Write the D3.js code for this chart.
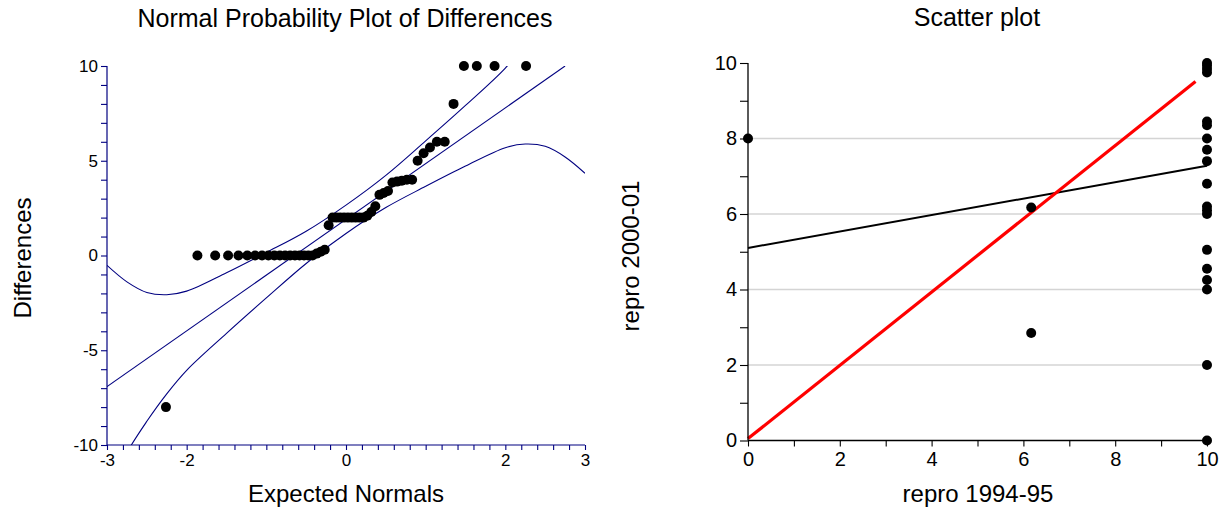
<!DOCTYPE html>
<html>
<head>
<meta charset="utf-8">
<script src="https://cdn.jsdelivr.net/npm/d3@7"></script>
<style>
  html, body { margin: 0; padding: 0; background: #fff; }
  svg { display: block; font-family: Arial, "Liberation Sans", sans-serif; }
</style>
</head>
<body>
<svg id="chart" width="1226" height="509"></svg>
<script>
// ---- Normal probability plot: expected normal scores and sorted differences ----
const expectedNormals = [
  -2.26, -1.865, -1.642, -1.48, -1.35, -1.239, -1.141, -1.054, -0.974, -0.899,
  -0.83, -0.764, -0.701, -0.641, -0.583, -0.527, -0.473, -0.42, -0.368, -0.317,
  -0.267, -0.218, -0.169, -0.12, -0.072, -0.024, 0.024, 0.072, 0.12, 0.169,
  0.218, 0.267, 0.317, 0.368, 0.42, 0.473, 0.527, 0.583, 0.641, 0.701,
  0.764, 0.83, 0.899, 0.974, 1.054, 1.141, 1.239, 1.35, 1.48, 1.642,
  1.865, 2.26
];
const differences = [
  -8, 0, 0, 0, 0, 0, 0, 0, 0, 0,
  0, 0, 0, 0, 0, 0, 0, 0, 0.1, 0.2,
  0.3, 1.6, 2, 2, 2, 2, 2, 2, 2, 2,
  2, 2.1, 2.3, 2.6, 3.2, 3.3, 3.4, 3.85, 3.9, 3.95,
  4, 4, 5, 5.4, 5.7, 6, 6, 8, 10, 10,
  10, 10
];
// reference line (two end points) and confidence band samples
const refLine = [[-3, -6.92], [2.75, 10]];
const bandX     = [-3, -2.75, -2.5, -2.25, -2, -1.5, -1, -0.5, 0, 0.5, 1, 1.5, 2, 2.25, 2.5, 2.75, 3];
const bandUpper = [-0.52, -1.39, -1.95, -2.07, -1.88, -0.91, 0.16, 1.28, 2.66, 4.23, 6.05, 7.92, 9.89, 11.18, 12.86, 14.8, 17.1];
const bandLower = [-12.6, -10.4, -8.75, -7.3, -6.06, -4.11, -2.24, -0.42, 1.16, 2.53, 3.65, 4.72, 5.69, 5.88, 5.76, 5.2, 4.34];
const normalXTicks = [-3, -2, 0, 2, 3];
const normalYTicks = [-10, -5, 0, 5, 10];

// ---- Scatter plot: repro 1994-95 vs repro 2000-01 ----
const repro9495 = [0, 6.17, 6.17, 10, 10, 10, 10, 10, 10, 10, 10, 10, 10, 10, 10, 10, 10, 10, 10, 10, 10, 10];
const repro0001 = [8, 6.17, 2.85, 10, 9.93, 9.84, 9.75, 8.45, 8.35, 8, 7.7, 7.4, 6.8, 6.2, 6.1, 6, 5.05, 4.55, 4.25, 4, 2, 0];
const fitLine   = [[0, 5.1], [10, 7.28]];
const redLine   = [[0, 0.05], [9.75, 9.51]];
const scatterTicks = [0, 2, 4, 6, 8, 10];
const scatterGrid  = [2, 4, 6, 8];

const svg = d3.select("#chart");
const navy = "#000080";

// ================= left panel =================
const xL = d3.scaleLinear().domain([-3, 3]).range([107, 585]);
const yL = d3.scaleLinear().domain([-10, 10]).range([445, 66]);

svg.append("defs").append("clipPath").attr("id", "clipL")
  .append("rect")
  .attr("x", xL(-3)).attr("y", yL(10))
  .attr("width", xL(3) - xL(-3)).attr("height", yL(-10) - yL(10));

const left = svg.append("g");
const lineL = d3.line().x(d => xL(d[0])).y(d => yL(d[1]));
const curveL = d3.line().x(d => xL(d[0])).y(d => yL(d[1])).curve(d3.curveCatmullRom.alpha(0.5));

const lines = left.append("g").attr("clip-path", "url(#clipL)")
  .attr("fill", "none").attr("stroke", navy).attr("stroke-width", 1.1);
lines.append("path").attr("d", lineL(refLine));
lines.append("path").attr("d", curveL(bandX.map((x, i) => [x, bandUpper[i]])));
lines.append("path").attr("d", curveL(bandX.map((x, i) => [x, bandLower[i]])));

left.append("g").selectAll("circle")
  .data(expectedNormals.map((x, i) => [x, differences[i]]))
  .join("circle")
  .attr("cx", d => xL(d[0])).attr("cy", d => yL(d[1]))
  .attr("r", 5).attr("fill", "#000");

const axL = left.append("g").attr("transform", `translate(${xL(-3)},0)`)
  .call(d3.axisLeft(yL).tickValues(d3.range(-10, 11, 1)).tickSize(6).tickPadding(3)
    .tickFormat(d => normalYTicks.includes(d) ? d : ""));
const axB = left.append("g").attr("transform", `translate(0,${yL(-10)})`)
  .call(d3.axisBottom(xL).tickValues(d3.range(-15, 16, 1).map(v => v / 5)).tickSize(5).tickPadding(4)
    .tickFormat(d => normalXTicks.includes(Math.round(d * 10) / 10) ? Math.round(d) : ""));
[axL, axB].forEach(a => {
  a.select(".domain").attr("stroke", navy).attr("stroke-width", 1.2);
  a.selectAll(".tick line").attr("stroke", navy).attr("stroke-width", 1.1);
  a.selectAll(".tick text").attr("fill", "#000").style("font-size", "17px");
});
axL.select(".domain").attr("d", `M0,${yL(10)}V${yL(-10)}`);
axB.select(".domain").attr("d", `M${xL(-3)},0H${xL(3)}`);

left.append("text").attr("x", 345).attr("y", 27).attr("text-anchor", "middle")
  .style("font-size", "25px").text("Normal Probability Plot of Differences");
left.append("text").attr("x", 346).attr("y", 502).attr("text-anchor", "middle")
  .style("font-size", "24px").text("Expected Normals");
left.append("text").attr("transform", "translate(31,258) rotate(-90)").attr("text-anchor", "middle")
  .style("font-size", "24px").text("Differences");

// ================= right panel =================
const xR = d3.scaleLinear().domain([0, 10]).range([748, 1207]);
const yR = d3.scaleLinear().domain([0, 10]).range([440.5, 63]);
const right = svg.append("g");

right.append("g").selectAll("line").data(scatterGrid).join("line")
  .attr("x1", xR(0)).attr("x2", xR(10))
  .attr("y1", d => yR(d)).attr("y2", d => yR(d))
  .attr("stroke", "#d4d4d4").attr("stroke-width", 1.5);

const lineR = d3.line().x(d => xR(d[0])).y(d => yR(d[1]));
right.append("path").attr("d", lineR(fitLine)).attr("fill", "none")
  .attr("stroke", "#000").attr("stroke-width", 2);
right.append("path").attr("d", lineR(redLine)).attr("fill", "none")
  .attr("stroke", "#ff0000").attr("stroke-width", 3.2);

const axLR = right.append("g").attr("transform", `translate(${xR(0)},0)`)
  .call(d3.axisLeft(yR).tickValues(d3.range(0, 11, 1)).tickSize(8).tickPadding(3)
    .tickFormat(d => scatterTicks.includes(d) ? d : ""));
const axBR = right.append("g").attr("transform", `translate(0,${yR(0)})`)
  .call(d3.axisBottom(xR).tickValues(d3.range(0, 11, 1)).tickSize(6).tickPadding(5)
    .tickFormat(d => scatterTicks.includes(d) ? d : ""));
[axLR, axBR].forEach(a => {
  a.select(".domain").attr("stroke", "#000").attr("stroke-width", 1.3);
  a.selectAll(".tick line").attr("stroke", "#000").attr("stroke-width", 1.1);
  a.selectAll(".tick text").attr("fill", "#000").style("font-size", "20px");
});
axLR.select(".domain").attr("d", `M0,${yR(10)}V${yR(0)}`);
axBR.select(".domain").attr("d", `M${xR(0)},0H${xR(10)}`);

right.append("g").selectAll("circle")
  .data(repro9495.map((x, i) => [x, repro0001[i]]))
  .join("circle")
  .attr("cx", d => xR(d[0])).attr("cy", d => yR(d[1]))
  .attr("r", 5).attr("fill", "#000");

right.append("text").attr("x", 977).attr("y", 26).attr("text-anchor", "middle")
  .style("font-size", "25px").text("Scatter plot");
right.append("text").attr("x", 978).attr("y", 502).attr("text-anchor", "middle")
  .style("font-size", "24px").text("repro 1994-95");
right.append("text").attr("transform", "translate(639,256) rotate(-90)").attr("text-anchor", "middle")
  .style("font-size", "24px").text("repro 2000-01");
</script>
</body>
</html>
